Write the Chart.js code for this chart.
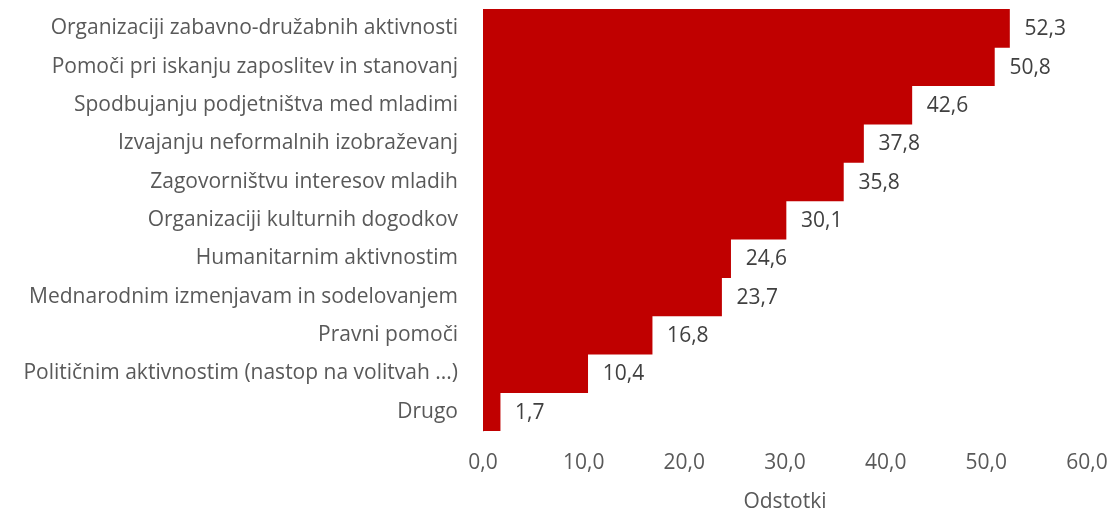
<!DOCTYPE html>
<html>
<head>
<meta charset="utf-8">
<script src="https://cdn.jsdelivr.net/npm/chart.js@4/dist/chart.umd.min.js"></script>
<style>
html,body{margin:0;padding:0;background:#fff;}
canvas{display:block;}
</style>
</head>
<body>
<canvas id="c" width="1112" height="515"></canvas>
<script>
const categories = [
  "Organizaciji zabavno-družabnih aktivnosti",
  "Pomoči pri iskanju zaposlitev in stanovanj",
  "Spodbujanju podjetništva med mladimi",
  "Izvajanju neformalnih izobraževanj",
  "Zagovorništvu interesov mladih",
  "Organizaciji kulturnih dogodkov",
  "Humanitarnim aktivnostim",
  "Mednarodnim izmenjavam in sodelovanjem",
  "Pravni pomoči",
  "Političnim aktivnostim (nastop na volitvah ...)",
  "Drugo"
];
const values = [52.3, 50.8, 42.6, 37.8, 35.8, 30.1, 24.6, 23.7, 16.8, 10.4, 1.7];
const xTickValues = [0, 10, 20, 30, 40, 50, 60];
const axisTitle = "Odstotki";

const FONT = "'Open Sans', sans-serif";
const FS = 21;
const fmt = v => v.toFixed(1).replace('.', ',');

const labelPlugin = {
  id: 'valueLabels',
  afterDatasetsDraw(chart) {
    const ctx = chart.ctx;
    const meta = chart.getDatasetMeta(0);
    ctx.save();
    ctx.font = FS + "px " + FONT;
    ctx.fillStyle = '#404040';
    ctx.textAlign = 'left';
    ctx.textBaseline = 'middle';
    meta.data.forEach((el, i) => {
      ctx.fillText(fmt(values[i]), el.x + 15, el.y + 1);
    });
    ctx.restore();
  }
};

new Chart(document.getElementById('c'), {
  type: 'bar',
  data: {
    labels: categories,
    datasets: [{
      data: values,
      backgroundColor: '#C00000',
      borderWidth: 0,
      categoryPercentage: 1.0,
      barPercentage: 1.0
    }]
  },
  options: {
    indexAxis: 'y',
    responsive: false,
    devicePixelRatio: 1,
    animation: false,
    layout: { padding: { top: 9, right: 25, bottom: 0, left: 0 } },
    plugins: { legend: { display: false }, tooltip: { enabled: false } },
    scales: {
      x: {
        min: 0, max: 60,
        afterBuildTicks(scale) { scale.ticks = xTickValues.map(v => ({ value: v })); },
        afterFit(scale) { scale.height = 84; scale.paddingLeft = 0; scale.paddingRight = 0; },
        grid: { display: false, drawTicks: false },
        border: { display: false },
        ticks: {
          padding: 19,
          maxRotation: 0,
          color: '#595959',
          font: { family: FONT, size: FS },
          callback: v => fmt(v)
        },
        title: {
          display: true,
          text: axisTitle,
          color: '#595959',
          font: { family: FONT, size: FS },
          padding: { top: 0, bottom: 0 }
        }
      },
      y: {
        afterFit(scale) { scale.width = 483; scale.paddingTop = 0; scale.paddingBottom = 0; },
        grid: { display: false, drawTicks: false },
        border: { display: true, color: '#d9d9d9', width: 1 },
        ticks: {
          padding: 25,
          color: '#595959',
          font: { family: FONT, size: FS }
        }
      }
    }
  },
  plugins: [labelPlugin]
});
</script>
</body>
</html>
